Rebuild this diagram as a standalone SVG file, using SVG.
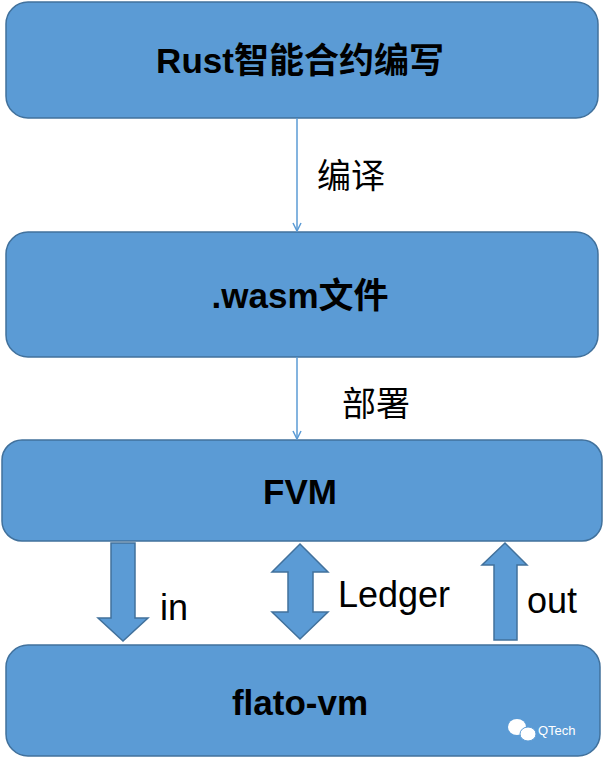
<svg xmlns="http://www.w3.org/2000/svg" width="604" height="758" viewBox="0 0 604 758">
<defs>
<style>
.box{fill:#5b9bd5;stroke:#41719c;stroke-width:1.5}
.bt{font-family:"Liberation Sans","Noto Sans CJK SC",sans-serif;font-weight:bold;font-size:35px;fill:#000;text-anchor:middle}
.lbl{font-family:"Liberation Sans","Noto Sans CJK SC",sans-serif;font-size:34px;fill:#000}
.en{font-size:36px}
.conn{stroke:#5b9bd5;stroke-width:1.5;fill:none}
.block{fill:#5b9bd5;stroke:#41719c;stroke-width:1.5}
</style>
<marker id="ah" markerWidth="10" markerHeight="10" refX="9" refY="5" orient="auto" markerUnits="userSpaceOnUse">
<path d="M1,1 L9,5 L1,9" fill="none" stroke="#5b9bd5" stroke-width="1.5"/>
</marker>
</defs>
<rect width="604" height="758" fill="#fff"/>
<g id="rust"><rect class="box" x="6" y="2" width="592" height="116" rx="22"/><text class="bt" x="300" y="73">Rust智能合约编写</text></g>
<g id="wasm"><rect class="box" x="6" y="232" width="592" height="125" rx="22"/><text class="bt" x="300" y="308">.wasm文件</text></g>
<g id="fvm"><rect class="box" x="2" y="440" width="600" height="101" rx="20"/><text class="bt" x="300" y="504">FVM</text></g>
<g id="flato"><rect class="box" x="6" y="645" width="594" height="111" rx="22"/><text class="bt" x="300" y="715">flato-vm</text>
<g fill="#fff"><ellipse cx="517" cy="727" rx="9" ry="8"/><ellipse cx="528" cy="734" rx="8" ry="7" stroke="#5b9bd5" stroke-width="1"/></g>
<text x="538" y="735" font-family="Liberation Sans,sans-serif" font-size="13" fill="#fff">QTech</text></g>
<g id="connectors">
<line class="conn" x1="297" y1="118" x2="297" y2="231" marker-end="url(#ah)"/>
<text class="lbl" x="317" y="188">编译</text>
<line class="conn" x1="297" y1="357" x2="297" y2="439" marker-end="url(#ah)"/>
<text class="lbl" x="342" y="416">部署</text>
<path class="block" d="M111,543 H135 V618 H148 L123,641 L98,618 H111 Z"/>
<text class="lbl en" x="160" y="620">in</text>
<path class="block" d="M300,544 L328,572 H313 V612 H328 L300,639 L272,612 H288 V572 H272 Z"/>
<text class="lbl en" x="338" y="607">Ledger</text>
<path class="block" d="M505,543 L527,565 H517 V640 H494 V565 H482 Z"/>
<text class="lbl en" x="527" y="613">out</text>
</g>
</svg>
